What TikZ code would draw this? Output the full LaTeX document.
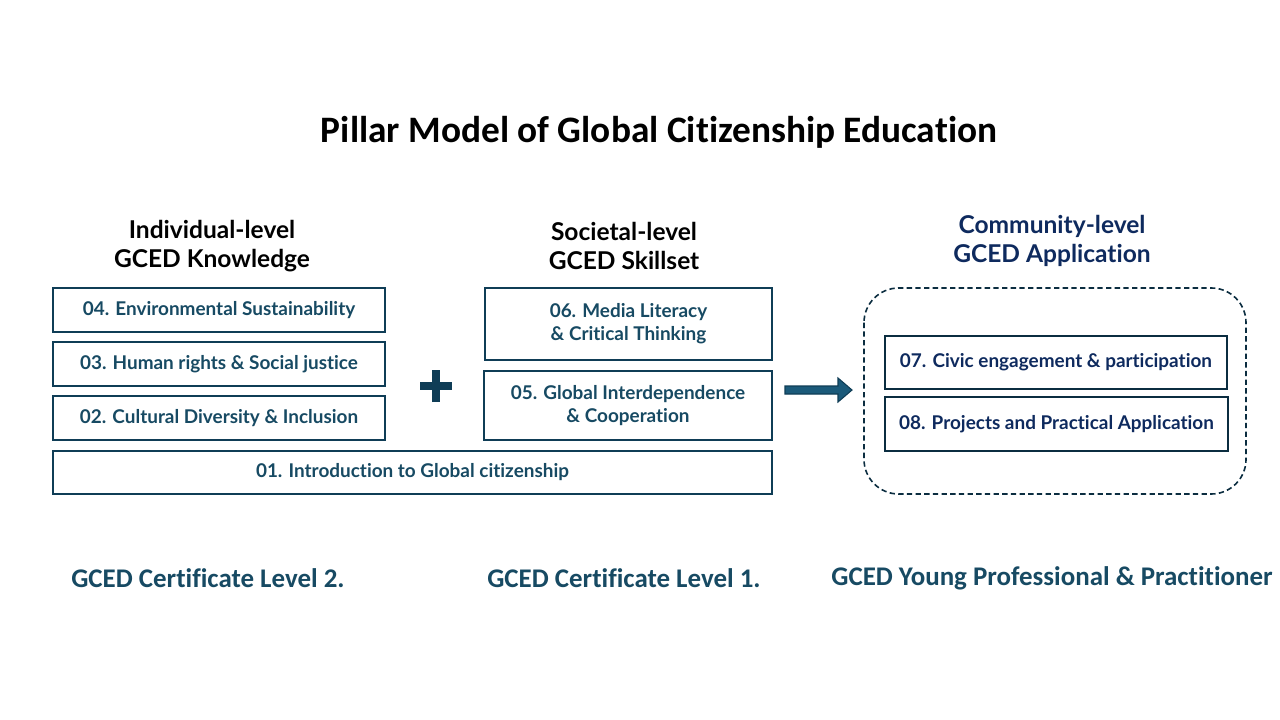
\documentclass[tikz,border=0pt]{standalone}
\usepackage{fontspec}
\setmainfont{Lato}[Ligatures=NoCommon]
\newfontfamily\titlefont{Carlito}[Ligatures=NoCommon]
\newfontfamily\narrowfont{Carlito}[Ligatures=NoCommon]
\definecolor{boxline}{HTML}{0F3D56}
\definecolor{boxtext}{HTML}{174A63}
\definecolor{navy}{HTML}{0E2A5E}
\definecolor{darkline}{HTML}{0B2D40}
\definecolor{arrowfill}{HTML}{1B5A7A}
\begin{document}
\begin{tikzpicture}[x=0.75pt,y=-0.75pt,
  pillar/.style={draw=boxline,line width=2.2pt,fill=white,inner sep=0pt,align=center,
     font=\fontsize{14.2}{17}\selectfont\bfseries,text=boxtext},
  appbox/.style={draw=darkline,line width=2.2pt,fill=white,inner sep=0pt,align=center,
     font=\fontsize{14.2}{17}\selectfont\bfseries,text=navy},
  heading/.style={align=center,font=\fontsize{18.4}{22}\selectfont\bfseries,text=black},
  footer/.style={font=\narrowfont\fontsize{20.2}{24}\selectfont\bfseries,text=boxtext}]
\useasboundingbox (0,0) rectangle (1280,720);
\fill[white] (0,0) rectangle (1280,720);
% title
\node[font=\titlefont\fontsize{28}{32}\selectfont\bfseries] (title) at (659,132) {Pillar Model of Global Citizenship Education};
% headings
\node[heading] (h1) at (212,246) {Individual-level\\GCED Knowledge};
\node[heading] (h2) at (624,246) {Societal-level\\GCED Skillset};
\node[heading,text=navy] (h3) at (1052,241) {Community-level\\GCED Application};
% left pillar
\node[pillar,minimum width=332*0.75pt,minimum height=44*0.75pt] (p04) at (219,310) {04. Environmental Sustainability};
\node[pillar,minimum width=332*0.75pt,minimum height=44*0.75pt] (p03) at (219,364) {03. Human rights \& Social justice};
\node[pillar,minimum width=332*0.75pt,minimum height=44*0.75pt] (p02) at (219,418) {02. Cultural Diversity \& Inclusion};
\node[pillar,minimum width=719*0.75pt,minimum height=43*0.75pt] (p01) at (412.5,472.5) {01. Introduction to Global citizenship};
% middle pillar
\node[pillar,minimum width=287*0.75pt,minimum height=72*0.75pt] (p06) at (628.5,324) {06. Media Literacy\\\& Critical Thinking};
\node[pillar,minimum width=288*0.75pt,minimum height=69*0.75pt] (p05) at (628,405.5) {05. Global Interdependence\\\& Cooperation};
% plus
\coordinate (plus) at (436,386);
\draw[boxline,line width=5.5pt] ([yshift=-16*0.75pt]plus) -- ([yshift=16*0.75pt]plus);
\draw[boxline,line width=5.5pt] ([xshift=-16*0.75pt]plus) -- ([xshift=16*0.75pt]plus);
% dashed group
\draw[darkline,line width=1.2pt,dashed,dash pattern=on 4pt off 2.5pt,rounded corners=26pt] (864,288) rectangle (1246,494);
% application boxes
\node[appbox,minimum width=342*0.75pt,minimum height=53*0.75pt] (p07) at (1056,362.5) {07. Civic engagement \& participation};
\node[appbox,minimum width=343*0.75pt,minimum height=54*0.75pt] (p08) at (1056.5,424) {08. Projects and Practical Application};
% block arrow
\filldraw[fill=arrowfill,draw=boxline,line width=0.8pt]
  (785,386) -- (838,386) -- (838,378) -- (852,390) -- (838,402) -- (838,394) -- (785,394) -- cycle;
% footers
\node[footer] (f1) at (208,578) {GCED Certificate Level 2.};
\node[footer] (f2) at (624,578) {GCED Certificate Level 1.};
\node[footer] (f3) at (1052,578) {GCED Young Professional \& Practitioner};
\end{tikzpicture}
\end{document}
